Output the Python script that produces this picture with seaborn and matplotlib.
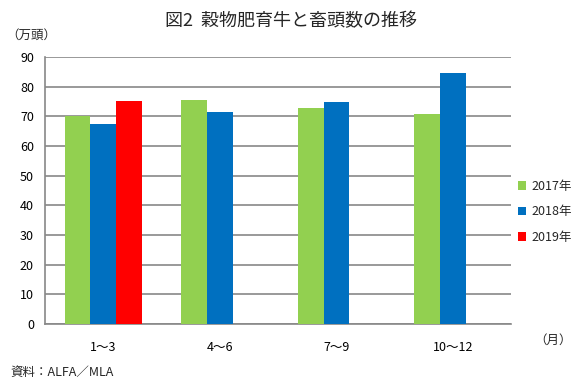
import pandas as pd
import matplotlib.pyplot as plt
import seaborn as sns

# 四半期ごとの頭数（万頭）
quarters = ["1～3", "4～6", "7～9", "10～12"]
years = ["2017年", "2018年", "2019年"]
v2017 = [70.0, 75.5, 72.8, 70.8]
v2018 = [67.4, 71.5, 74.8, 84.6]
v2019 = [75.2, None, None, None]

colors = ["#92D050", "#0070C0", "#FF0000"]

rows = []
for yr, vals in zip(years, [v2017, v2018, v2019]):
    for q, v in zip(quarters, vals):
        if v is not None:
            rows.append({"quarter": q, "year": yr, "value": v})
df = pd.DataFrame(rows)

sns.set_style("white")
plt.rcParams['font.family'] = ['Noto Sans CJK JP', 'DejaVu Sans']

fig = plt.figure(figsize=(5.87, 3.92), dpi=100)
ax = fig.add_axes([0.0767, 0.173, 0.794, 0.682])

sns.barplot(data=df, x="quarter", y="value", hue="year", order=quarters,
            hue_order=years, palette=colors, width=0.66, saturation=1,
            linewidth=0, ax=ax, zorder=3)

ax.set_ylim(0, 90)
ax.set_yticks(range(0, 91, 10))
ax.set_xlim(-0.5, 3.5)
ax.yaxis.grid(True, color="#888888", linewidth=1.2, zorder=0)
ax.set_axisbelow(True)
for s in ["top", "right"]:
    ax.spines[s].set_visible(False)
for s in ["left", "bottom"]:
    ax.spines[s].set_color("#888888")
    ax.spines[s].set_linewidth(1.2)
ax.tick_params(axis="both", length=0, labelsize=9, colors="black", pad=8)
ax.tick_params(axis="x", pad=12)
ax.set_xlabel("")
ax.set_ylabel("")

ax.legend(loc="center left", bbox_to_anchor=(0.99, 0.42), frameon=False,
          fontsize=9, handlelength=0.7, handleheight=0.7, handletextpad=0.4,
          labelspacing=1.0)

fig.text(0.495, 0.945, "図2  穀物肥育牛と畜頭数の推移", ha="center", va="center", fontsize=13)
fig.text(0.01, 0.91, "（万頭）", ha="left", va="center", fontsize=9)
fig.text(0.91, 0.133, "（月）", ha="left", va="center", fontsize=9)
fig.text(0.017, 0.05, "資料：ALFA／MLA", ha="left", va="center", fontsize=9)

fig.savefig("out.png", dpi=100)
